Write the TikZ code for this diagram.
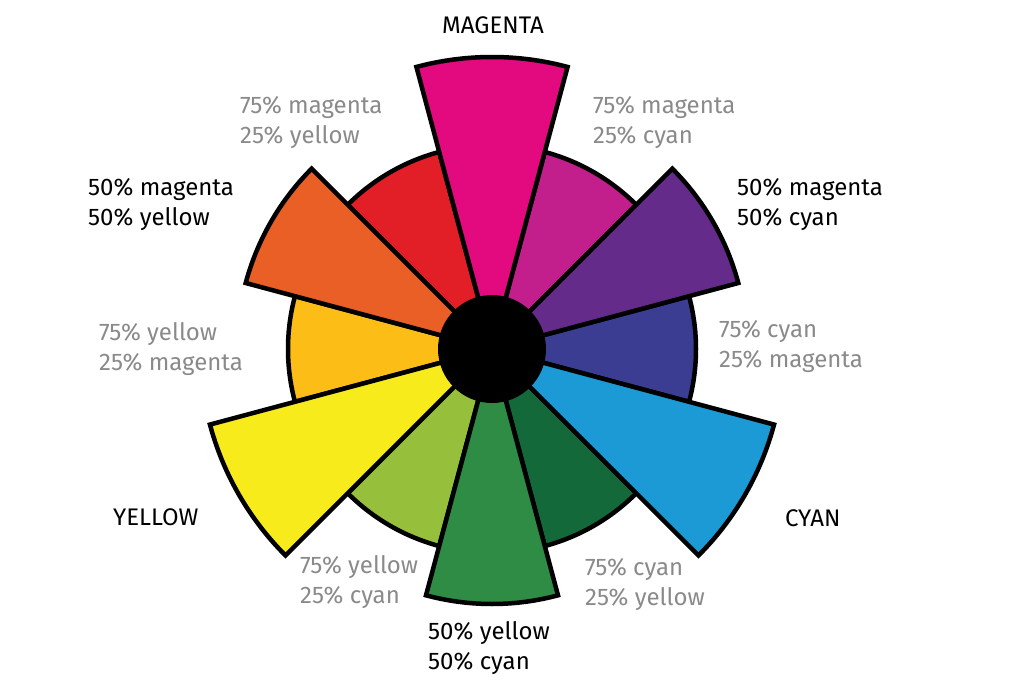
\documentclass[tikz,border=0pt]{standalone}
\usepackage{fontspec}
\setmainfont{Fira Sans}
\usepackage{tikz}
\usetikzlibrary{calc}
\definecolor{cM}{HTML}{E3097E}
\definecolor{cMMC}{HTML}{C21F8C}
\definecolor{cMC}{HTML}{652B8A}
\definecolor{cCCM}{HTML}{3B3D92}
\definecolor{cC}{HTML}{1B9AD6}
\definecolor{cCCY}{HTML}{13693A}
\definecolor{cYC}{HTML}{2E8C44}
\definecolor{cYYC}{HTML}{96C03C}
\definecolor{cY}{HTML}{F8EB1B}
\definecolor{cYYM}{HTML}{FCBD16}
\definecolor{cMY}{HTML}{E95F25}
\definecolor{cMMY}{HTML}{E21F26}
\definecolor{labelgray}{HTML}{8A8A8A}
\tikzstyle{wedge} = [draw=black, line width=4.5pt, line join=miter]
\tikzstyle{lbl} = [inner sep=0, anchor=west, align=left, font=\fontsize{24}{30}\selectfont]
\tikzstyle{pale} = [lbl, text=labelgray]

\begin{document}
\begin{tikzpicture}[x=1pt, y=1pt]
\useasboundingbox (-492,-334) rectangle (532,349);
\coordinate (O) at (0, 0);
% tertiary wedges
\foreach \a/\c in {60/cMMC, 0/cCCM, -60/cCCY, -120/cYYC, 180/cYYM, 120/cMMY}
  \draw [wedge, fill=\c] (O) -- (\a-15:204) arc [start angle=\a-15, end angle=\a+15, radius=204] -- cycle;
% secondary wedges
\foreach \a/\c in {30/cMC, -90/cYC, 150/cMY}
  \draw [wedge, fill=\c] (O) -- (\a-15:255) arc [start angle=\a-15, end angle=\a+15, radius=255] -- cycle;
% primary wedges
\foreach \a/\c in {90/cM, -30/cC, 210/cY}
  \draw [wedge, fill=\c] (O) -- (\a-15:292) arc [start angle=\a-15, end angle=\a+15, radius=292] -- cycle;
\fill [black] (O) circle (54);
% labels
\node [lbl, anchor=center] (M) at (1, 324) {MAGENTA};
\node [pale] (MMY) at (-252, 226) {75\% magenta\\25\% yellow};
\node [pale] (MMC) at (101, 226) {75\% magenta\\25\% cyan};
\node [lbl] (MY) at (-404, 144) {50\% magenta\\50\% yellow};
\node [lbl] (MC) at (245, 144) {50\% magenta\\50\% cyan};
\node [pale] (YYM) at (-393, 0) {75\% yellow\\25\% magenta};
\node [pale] (CCM) at (227, 2) {75\% cyan\\25\% magenta};
\node [lbl] (Y) at (-379, -168) {YELLOW};
\node [lbl] (C) at (293, -169) {CYAN};
\node [pale] (YYC) at (-192, -233) {75\% yellow\\25\% cyan};
\node [pale] (CCY) at (93, -236) {75\% cyan\\25\% yellow};
\node [lbl] (YC) at (-64, -299) {50\% yellow\\50\% cyan};
\end{tikzpicture}
\end{document}
